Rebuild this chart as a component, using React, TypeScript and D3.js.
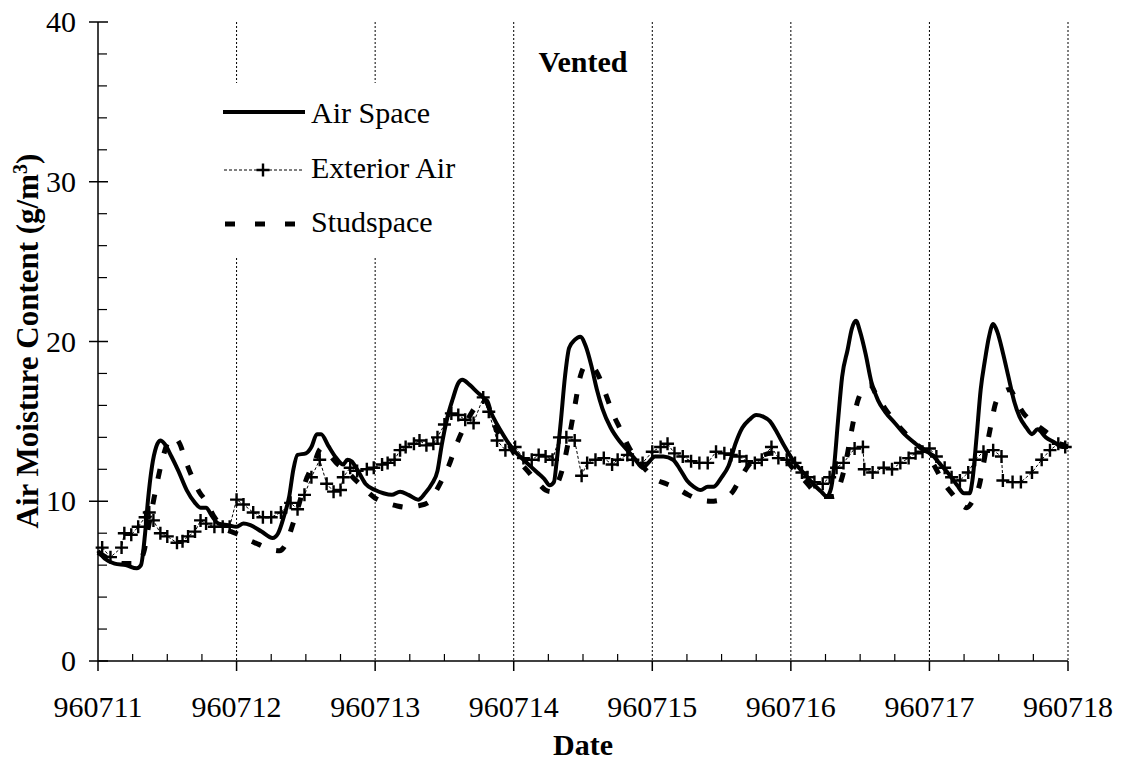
import React from "react";
import * as d3 from "d3";

const dayLabels = ["960711", "960712", "960713", "960714", "960715", "960716", "960717", "960718"];
const yTicks = [0, 10, 20, 30, 40];

// [day offset from 960711, g/m3]
const airSpace: [number, number][] = [[0.0,6.9],[0.05,6.4],[0.12,6.1],[0.2,6.0],[0.28,5.8],[0.31,6.0],[0.34,8.0],[0.36,10.0],[0.39,12.2],[0.42,13.4],[0.45,13.8],[0.48,13.6],[0.53,12.8],[0.58,11.9],[0.64,10.7],[0.7,9.9],[0.74,9.6],[0.78,9.6],[0.82,9.1],[0.87,8.6],[0.94,8.5],[1.0,8.4],[1.05,8.6],[1.1,8.5],[1.18,8.1],[1.26,7.7],[1.3,8.0],[1.34,9.0],[1.38,10.3],[1.41,12.0],[1.44,12.9],[1.5,13.0],[1.54,13.4],[1.58,14.2],[1.61,14.2],[1.66,13.5],[1.72,12.7],[1.77,12.3],[1.8,12.6],[1.83,12.5],[1.87,12.0],[1.93,11.1],[2.0,10.7],[2.06,10.5],[2.12,10.4],[2.18,10.6],[2.24,10.4],[2.31,10.1],[2.36,10.5],[2.41,11.1],[2.45,11.9],[2.48,13.5],[2.52,15.2],[2.56,16.4],[2.6,17.4],[2.63,17.6],[2.68,17.3],[2.74,16.8],[2.79,16.4],[2.85,15.3],[2.9,14.5],[2.95,13.8],[3.01,13.1],[3.07,12.6],[3.12,12.2],[3.17,11.8],[3.22,11.4],[3.26,11.0],[3.29,11.2],[3.31,12.5],[3.34,15.0],[3.37,17.8],[3.4,19.6],[3.44,20.1],[3.48,20.3],[3.52,19.7],[3.56,18.5],[3.6,17.0],[3.64,15.8],[3.7,14.6],[3.76,13.8],[3.82,13.2],[3.87,12.7],[3.93,12.1],[3.97,12.4],[4.02,12.8],[4.08,12.8],[4.15,12.6],[4.2,12.0],[4.25,11.3],[4.3,10.9],[4.35,10.7],[4.4,10.9],[4.44,10.9],[4.5,11.5],[4.55,12.2],[4.6,13.6],[4.65,14.6],[4.7,15.1],[4.75,15.4],[4.8,15.3],[4.85,15.0],[4.9,14.3],[4.95,13.5],[5.02,12.5],[5.1,11.7],[5.17,11.0],[5.22,10.6],[5.26,10.3],[5.29,10.8],[5.31,12.0],[5.34,15.0],[5.37,17.8],[5.41,19.5],[5.44,20.8],[5.47,21.3],[5.5,20.6],[5.54,19.2],[5.58,17.5],[5.63,16.3],[5.68,15.6],[5.75,14.9],[5.82,14.2],[5.9,13.6],[5.96,13.2],[6.02,12.9],[6.08,12.3],[6.14,11.7],[6.2,11.0],[6.25,10.5],[6.29,10.5],[6.31,11.3],[6.34,14.0],[6.37,17.0],[6.4,18.8],[6.43,20.3],[6.46,21.1],[6.49,20.6],[6.53,19.3],[6.57,17.8],[6.61,16.3],[6.65,15.3],[6.7,14.6],[6.74,14.2],[6.78,14.5],[6.84,14.0],[6.9,13.7],[6.96,13.4],[7.0,13.4]];

const exteriorAir: [number, number][] = [[0.03,7.1],[0.09,6.5],[0.17,7.1],[0.19,8.0],[0.24,7.9],[0.29,8.4],[0.34,9.0],[0.37,9.3],[0.4,8.8],[0.45,8.0],[0.5,7.8],[0.57,7.4],[0.61,7.5],[0.65,7.8],[0.7,8.1],[0.74,8.8],[0.78,8.6],[0.84,8.4],[0.9,8.4],[0.95,8.4],[1.0,10.1],[1.05,9.8],[1.12,9.3],[1.19,9.0],[1.25,9.0],[1.32,9.3],[1.39,9.9],[1.44,9.5],[1.49,10.4],[1.54,11.5],[1.6,12.6],[1.65,11.1],[1.7,10.6],[1.75,10.7],[1.77,11.5],[1.82,12.1],[1.87,11.9],[1.94,12.0],[1.99,12.1],[2.05,12.3],[2.09,12.4],[2.14,12.6],[2.18,13.2],[2.22,13.4],[2.28,13.6],[2.32,13.8],[2.37,13.5],[2.42,13.6],[2.45,14.0],[2.5,14.8],[2.55,15.5],[2.6,15.4],[2.65,15.1],[2.71,14.9],[2.78,16.5],[2.82,15.6],[2.88,13.8],[2.94,13.2],[3.01,13.4],[3.07,12.7],[3.13,12.6],[3.18,12.9],[3.23,12.8],[3.28,12.6],[3.33,14.0],[3.38,14.0],[3.44,13.8],[3.49,11.6],[3.53,12.4],[3.59,12.6],[3.65,12.7],[3.71,12.3],[3.75,12.6],[3.82,12.9],[3.86,12.6],[3.93,12.4],[4.0,13.1],[4.06,13.4],[4.11,13.6],[4.16,13.0],[4.22,12.8],[4.28,12.5],[4.34,12.4],[4.4,12.4],[4.46,13.1],[4.52,13.0],[4.57,12.9],[4.63,12.8],[4.68,12.5],[4.74,12.4],[4.79,12.6],[4.86,13.4],[4.91,12.7],[4.97,12.6],[5.03,12.4],[5.08,11.8],[5.12,11.5],[5.17,11.2],[5.23,11.1],[5.28,11.5],[5.33,12.1],[5.38,12.4],[5.46,13.3],[5.52,13.4],[5.53,12.0],[5.59,11.8],[5.67,12.1],[5.73,12.0],[5.79,12.4],[5.85,12.7],[5.9,13.0],[5.95,13.1],[6.0,13.3],[6.05,12.8],[6.11,12.1],[6.16,11.5],[6.22,11.3],[6.28,11.8],[6.33,12.6],[6.39,13.1],[6.46,13.2],[6.52,12.8],[6.53,11.3],[6.6,11.2],[6.66,11.2],[6.74,11.8],[6.81,12.6],[6.87,13.2],[6.93,13.6],[6.98,13.4]];

const studspace: [number, number][] = [[0.0,6.8],[0.08,6.4],[0.18,6.1],[0.28,6.1],[0.33,6.8],[0.36,8.2],[0.4,10.0],[0.43,11.3],[0.47,12.8],[0.5,13.6],[0.55,14.0],[0.59,13.6],[0.63,12.6],[0.68,11.5],[0.73,10.6],[0.78,10.0],[0.84,9.0],[0.9,8.4],[0.96,8.1],[1.02,7.9],[1.08,7.6],[1.16,7.3],[1.24,7.0],[1.31,6.9],[1.36,7.4],[1.4,8.4],[1.45,9.8],[1.5,11.3],[1.56,12.4],[1.61,13.3],[1.66,13.0],[1.72,12.4],[1.78,12.0],[1.85,11.4],[1.92,10.8],[2.0,10.2],[2.08,9.9],[2.16,9.7],[2.24,9.6],[2.3,9.7],[2.38,9.9],[2.43,10.5],[2.48,11.3],[2.53,12.2],[2.58,13.4],[2.64,14.6],[2.7,15.6],[2.76,16.2],[2.8,16.3],[2.85,15.0],[2.9,14.1],[2.96,13.6],[3.03,12.6],[3.1,11.9],[3.17,11.2],[3.23,10.7],[3.27,10.6],[3.32,11.2],[3.36,12.3],[3.4,14.0],[3.44,15.9],[3.48,17.8],[3.52,18.5],[3.57,18.4],[3.61,17.9],[3.66,16.8],[3.71,15.6],[3.77,14.5],[3.83,13.4],[3.9,12.5],[3.96,11.9],[4.02,11.4],[4.1,11.1],[4.18,10.8],[4.26,10.4],[4.34,10.1],[4.42,10.0],[4.5,10.1],[4.58,10.6],[4.64,11.5],[4.7,12.3],[4.78,12.8],[4.86,13.0],[4.94,12.8],[5.02,12.0],[5.1,11.3],[5.17,10.6],[5.24,10.3],[5.31,10.3],[5.36,11.2],[5.4,12.6],[5.44,14.5],[5.48,16.2],[5.52,17.0],[5.57,17.3],[5.62,16.6],[5.68,15.8],[5.74,15.1],[5.82,14.3],[5.9,13.6],[5.97,13.1],[6.03,12.3],[6.1,11.2],[6.17,10.4],[6.23,9.8],[6.27,9.6],[6.31,10.0],[6.36,11.0],[6.4,12.8],[6.44,14.6],[6.48,16.2],[6.53,16.8],[6.58,17.0],[6.63,16.2],[6.68,15.5],[6.74,15.0],[6.8,14.6],[6.86,14.2],[6.92,13.7],[6.97,13.5],[7.0,13.4]];

const W = 1122, H = 761;
const TXT: React.CSSProperties = { fontFamily: '"Liberation Serif", "Times New Roman", serif' };
const FS = 30;

export default function App() {
  const x = d3.scaleLinear().domain([0, 7]).range([98, 1068]);
  const y = d3.scaleLinear().domain([0, 40]).range([661, 22]);
  const line = d3.line<[number, number]>().x(d => x(d[0])).y(d => y(d[1]));
  const smooth = d3.line<[number, number]>().x(d => x(d[0])).y(d => y(d[1])).curve(d3.curveMonotoneX);

  const minorX = d3.range(0, 7.001, 0.25).filter(v => Math.abs(v - Math.round(v)) > 1e-6);
  const minorY = d3.range(0, 40.001, 2).filter(v => v % 10 !== 0);
  const days = d3.range(0, 8);
  const midX = (x(0) + x(7)) / 2;

  const plus = (cx: number, cy: number, k: string | number) => (
    <path key={k} d={`M${cx - 6.5},${cy}H${cx + 6.5}M${cx},${cy - 6.5}V${cy + 6.5}`} stroke="#000" strokeWidth={2.4} />
  );

  return (
    <svg width={W} height={H} style={{ position: "absolute", left: 0, top: 0, background: "#fff" }}>
      {days.slice(1).map(d => (
        <line key={"g" + d} x1={x(d)} x2={x(d)} y1={y(40)} y2={y(0)} stroke="#000" strokeWidth={1} strokeDasharray="2,2" />
      ))}
      <path d={line(exteriorAir) || ""} fill="none" stroke="#000" strokeWidth={1} strokeDasharray="3,2" />
      {exteriorAir.map((d, i) => plus(x(d[0]), y(d[1]), "p" + i))}
      <path d={smooth(studspace) || ""} fill="none" stroke="#000" strokeWidth={5} strokeDasharray="10,16" />
      <path d={smooth(airSpace) || ""} fill="none" stroke="#000" strokeWidth={4} strokeLinejoin="round" />

      <rect x={215} y={83} width={265} height={174} fill="#fff" />
      <line x1={223} x2={305} y1={112} y2={112} stroke="#000" strokeWidth={4} />
      <text x={311} y={123} fontSize={FS} style={TXT}>Air Space</text>
      <line x1={224} x2={303} y1={170} y2={170} stroke="#000" strokeWidth={1} strokeDasharray="3,2" />
      {plus(263, 170, "lp")}
      <text x={311} y={178} fontSize={FS} style={TXT}>Exterior Air</text>
      <line x1={225} x2={297} y1={224} y2={224} stroke="#000" strokeWidth={5} strokeDasharray="10,20" />
      <text x={311} y={232} fontSize={FS} style={TXT}>Studspace</text>

      <text x={midX} y={72} fontSize={FS} fontWeight="bold" textAnchor="middle" style={TXT}>Vented</text>

      <line x1={x(0)} x2={x(0)} y1={y(40)} y2={y(0)} stroke="#000" strokeWidth={1.5} />
      <line x1={x(0)} x2={x(7)} y1={y(0)} y2={y(0)} stroke="#000" strokeWidth={1.5} />
      {yTicks.map(v => (
        <g key={"yt" + v}>
          <line x1={x(0) - 9} x2={x(0) + 10} y1={y(v)} y2={y(v)} stroke="#000" strokeWidth={1.5} />
          <text x={x(0) - 22} y={y(v) + 10} fontSize={FS} textAnchor="end" style={TXT}>{v}</text>
        </g>
      ))}
      {minorY.map(v => (
        <line key={"ym" + v} x1={x(0)} x2={x(0) + 9} y1={y(v)} y2={y(v)} stroke="#000" strokeWidth={1.2} />
      ))}
      {days.map(d => (
        <g key={"xt" + d}>
          <line x1={x(d)} x2={x(d)} y1={y(0)} y2={y(0) + 10} stroke="#000" strokeWidth={1.5} />
          <text x={x(d)} y={717} fontSize={FS} textAnchor="middle" style={TXT}>{dayLabels[d]}</text>
        </g>
      ))}
      {minorX.map(v => (
        <line key={"xm" + v} x1={x(v)} x2={x(v)} y1={y(0)} y2={y(0) - 7} stroke="#000" strokeWidth={1.2} />
      ))}
      <text x={midX} y={755} fontSize={FS} fontWeight="bold" textAnchor="middle" style={TXT}>Date</text>
      <text transform={`translate(38,341) rotate(-90)`} fontSize={31} fontWeight="bold" textAnchor="middle" style={TXT}>
        Air Moisture Content (g/m<tspan dy={-11} fontSize={20}>3</tspan><tspan dy={11}>)</tspan>
      </text>
    </svg>
  );
}
